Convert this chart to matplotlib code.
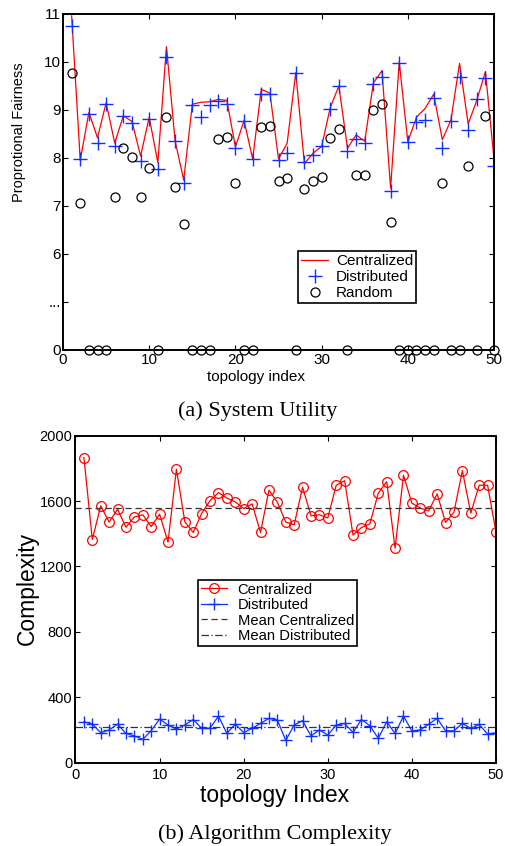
import numpy as np
import matplotlib
matplotlib.use("Agg")
import matplotlib.pyplot as plt

plt.rcParams['font.family'] = ['Liberation Sans', 'DejaVu Sans']

# topology indices shared by both panels
topology = np.arange(1, 51)

# (a) proportional fairness, 0 means the random scheme failed
fair_centralized = [10.96, 7.95, 8.95, 8.42, 9.15, 8.31, 8.88, 8.76, 8.04, 8.85,
                    7.90, 10.32, 8.36, 7.54, 9.12, 9.16, 9.17, 9.22, 9.20, 8.23,
                    8.78, 7.98, 9.43, 9.35, 7.98, 8.31, 9.78, 7.88, 8.10, 8.24,
                    9.05, 9.50, 8.20, 8.48, 8.35, 9.56, 9.82, 7.37, 10.00, 8.33,
                    8.85, 9.03, 9.33, 8.38, 8.79, 9.97, 8.71, 9.20, 9.80, 7.97]
fair_distributed = [10.74, 7.97, 8.92, 8.32, 9.12, 8.25, 8.88, 8.72, 7.94, 8.82,
                    7.76, 10.10, 8.36, 7.47, 9.10, 8.86, 9.10, 9.19, 9.12, 8.21,
                    8.76, 7.97, 9.33, 9.33, 7.95, 8.11, 9.76, 7.91, 8.06, 8.24,
                    9.03, 9.50, 8.15, 8.39, 8.31, 9.54, 9.68, 7.32, 9.97, 8.34,
                    8.74, 8.79, 9.24, 8.20, 8.78, 9.69, 8.58, 9.23, 9.67, 7.83]
fair_random = [9.76, 7.06, 0, 0, 0, 7.18, 8.21, 8.03, 7.19, 7.79,
               0, 8.86, 7.40, 6.62, 0, 0, 0, 8.39, 8.43, 7.47,
               0, 0, 8.64, 8.67, 7.51, 7.58, 0, 7.36, 7.51, 7.60,
               8.41, 8.60, 0, 7.64, 7.65, 9.00, 9.12, 6.67, 0, 0,
               0, 0, 0, 7.47, 0, 0, 7.83, 0, 8.88, 0]
fair_ticks = [0, 5, 6, 7, 8, 9, 10, 11]
fair_ticklabels = ['0', '...', '6', '7', '8', '9', '10', '11']

# (b) algorithm complexity
cx_centralized = [1866, 1365, 1571, 1471, 1550, 1440, 1503, 1516, 1444, 1520,
                  1349, 1795, 1473, 1408, 1524, 1603, 1652, 1618, 1595, 1554,
                  1583, 1408, 1667, 1593, 1472, 1455, 1685, 1510, 1516, 1497,
                  1697, 1725, 1392, 1438, 1461, 1648, 1719, 1312, 1758, 1587,
                  1557, 1540, 1644, 1469, 1532, 1786, 1526, 1697, 1697, 1410]
cx_distributed = [250, 236, 183, 200, 236, 179, 163, 143, 195, 267,
                  230, 206, 230, 264, 210, 210, 285, 179, 236, 183,
                  210, 240, 271, 261, 136, 230, 257, 163, 200, 169,
                  230, 240, 185, 264, 226, 149, 250, 179, 285, 193,
                  200, 236, 271, 195, 195, 240, 210, 234, 175, 183]

RED = '#ff0000'
BLUE = '#1030ff'


# broken y axis: 0..5 squeezed into one unit, 5..11 linear
def squash(v):
    v = np.asarray(v, dtype=float)
    return np.where(v < 5, v / 5.0, v - 4.0)


def unsquash(d):
    d = np.asarray(d, dtype=float)
    return np.where(d < 1, d * 5.0, d + 4.0)


def style_axes(ax, lw=1.4):
    for s in ax.spines.values():
        s.set_linewidth(lw)
    ax.tick_params(direction='in', top=True, right=True, length=3.5, width=0.8)


fig = plt.figure(figsize=(5.05, 8.46), dpi=100)

# ---- (a) System Utility
ax1 = fig.add_axes([0.1248, 0.5863, 0.8535, 0.3972])
ax1.set_yscale('function', functions=(squash, unsquash))
ax1.plot(topology, fair_centralized, color=RED, lw=0.9, label='Centralized')
ax1.plot(topology, fair_distributed, ls='none', marker='+', ms=10, mew=1.0,
         color=BLUE, label='Distributed')
ax1.plot(topology, fair_random, ls='none', marker='o', ms=6.5, mfc='none',
         mec='k', mew=0.9, clip_on=False, label='Random')
ax1.set_xlim(0, 50)
ax1.set_ylim(0, 11)
ax1.set_xticks(range(0, 51, 10))
ax1.set_yticks(fair_ticks)
ax1.set_yticklabels(fair_ticklabels)
style_axes(ax1)
ax1.tick_params(axis='x', labelsize=11, pad=2.5)
ax1.tick_params(axis='y', labelsize=11, pad=1.5)
ax1.set_xlabel('topology index', fontsize=11, va='center')
ax1.xaxis.set_label_coords(0.447, -0.080)
ax1.set_ylabel('Proprotional Fairness', fontsize=10.5, va='center')
ax1.yaxis.set_label_coords(-0.102, 0.647)
leg1 = ax1.legend(loc='lower left', bbox_to_anchor=(0.545, 0.14), fontsize=11,
                  frameon=True, fancybox=False, edgecolor='k', framealpha=1,
                  handlelength=1.8, handletextpad=0.5, labelspacing=0.12,
                  borderpad=0.2, borderaxespad=0)
leg1.get_frame().set_linewidth(1.2)

fig.text(258 / 505, 1 - 411 / 846, '(a) System Utility', ha='center', va='center',
         fontsize=16, family='Liberation Serif')

# ---- (b) Algorithm Complexity
ax2 = fig.add_axes([0.1495, 0.0985, 0.8327, 0.3865])
ax2.plot(topology, cx_centralized, color=RED, lw=0.9, marker='o', ms=7,
         mfc='none', mew=0.9, label='Centralized')
ax2.plot(topology, cx_distributed, color=BLUE, lw=0.9, marker='+', ms=8,
         mew=1.0, label='Distributed')
ax2.axhline(np.mean(cx_centralized), color='#333333', ls=(0, (5, 3)), lw=0.9,
            label='Mean Centralized')
ax2.axhline(np.mean(cx_distributed), color='#333333', ls=(0, (6, 2, 1, 2)), lw=0.9,
            label='Mean Distributed')
ax2.set_xlim(0, 50)
ax2.set_ylim(0, 2000)
ax2.set_xticks(range(0, 51, 10))
ax2.set_yticks(range(0, 2001, 400))
style_axes(ax2)
ax2.tick_params(axis='x', labelsize=10.5, pad=4)
ax2.tick_params(axis='y', labelsize=10.5, pad=2.2)
ax2.set_xlabel('topology Index', fontsize=16.5, va='center')
ax2.xaxis.set_label_coords(0.474, -0.099)
ax2.set_ylabel('Complexity', fontsize=16.5, va='center')
ax2.yaxis.set_label_coords(-0.115, 0.534)
leg2 = ax2.legend(loc='lower left', bbox_to_anchor=(0.291, 0.357), fontsize=10.6,
                  frameon=True, fancybox=False, edgecolor='k', framealpha=1,
                  handlelength=1.8, handletextpad=0.7, labelspacing=0.1,
                  borderpad=0.2, borderaxespad=0)
leg2.get_frame().set_linewidth(1.2)

fig.text(275 / 505, 1 - 834 / 846, '(b) Algorithm Complexity', ha='center',
         va='center', fontsize=16, family='Liberation Serif')

fig.savefig('out.png', dpi=100)
